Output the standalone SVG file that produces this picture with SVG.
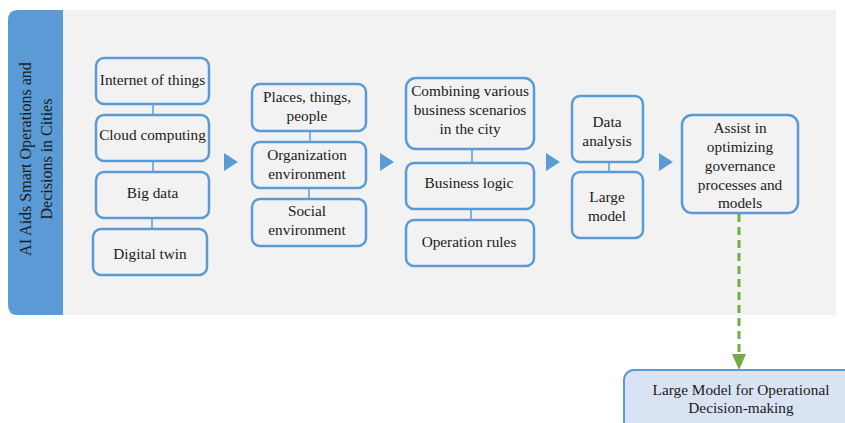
<svg xmlns="http://www.w3.org/2000/svg" width="845" height="423" viewBox="0 0 845 423">
<style>
  .box { fill: #f2f2f2; stroke: #5b9bd5; stroke-width: 2.5; }
  .t { font-family: 'Liberation Serif', 'DejaVu Serif', serif; font-size: 15.3px; fill: #1a1a1a; text-anchor: middle; }
  .v { font-size: 16px; }
  .link { stroke: #5b9bd5; stroke-width: 1.5; fill: none; }
  .tri { fill: #5b9bd5; }
</style>
<rect x="0" y="0" width="845" height="423" fill="#ffffff"/>
<g id="panel">
  <rect x="10" y="10" width="826" height="305" fill="#f2f2f2"/>
  <path d="M18,10 H63 V315 H18 Q8,315 8,305 V20 Q8,10 18,10 Z" fill="#5b9bd5"/>
  <text class="t v" transform="translate(36,159) rotate(-90)"><tspan x="0" y="-5">AI Aids Smart Operations and</tspan><tspan x="0" y="16">Decisions in Cities</tspan></text>
</g>
<g id="connectors">
  <line class="link" x1="153" y1="104" x2="153" y2="115"/>
  <line class="link" x1="153" y1="161" x2="153" y2="172"/>
  <line class="link" x1="152" y1="218" x2="152" y2="229"/>
  <line class="link" x1="310" y1="131" x2="310" y2="142"/>
  <line class="link" x1="309" y1="188" x2="309" y2="199"/>
  <line class="link" x1="472" y1="149" x2="472" y2="163"/>
  <line class="link" x1="471" y1="209" x2="471" y2="220"/>
  <line class="link" x1="609" y1="162" x2="609" y2="172"/>
  <polygon class="tri" points="224,153 238,162 224,171"/>
  <polygon class="tri" points="380,153 394,162 380,171"/>
  <polygon class="tri" points="546,153 560,162 546,171"/>
  <polygon class="tri" points="659,153 673,162 659,171"/>
  <line x1="739" y1="214" x2="739" y2="356" stroke="#70ad47" stroke-width="3" stroke-dasharray="8,5"/>
  <polygon points="732,354 746,354 739,370" fill="#70ad47"/>
</g>
<g id="n-iot"><rect class="box" x="96" y="58" width="113" height="46" rx="8"/><text class="t" x="152.5" y="85">Internet of things</text></g>
<g id="n-cloud"><rect class="box" x="96" y="115" width="113" height="46" rx="8"/><text class="t" x="152.5" y="140">Cloud computing</text></g>
<g id="n-bigdata"><rect class="box" x="96" y="172" width="113" height="46" rx="8"/><text class="t" x="152.5" y="198">Big data</text></g>
<g id="n-twin"><rect class="box" x="93" y="229" width="114" height="46" rx="8"/><text class="t" x="150" y="259">Digital twin</text></g>
<g id="n-places"><rect class="box" x="252" y="84" width="114" height="47" rx="8"/><text class="t"><tspan x="307" y="102">Places, things,</tspan><tspan x="307" y="121">people</tspan></text></g>
<g id="n-org"><rect class="box" x="252" y="142" width="114" height="46" rx="8"/><text class="t"><tspan x="307" y="160">Organization</tspan><tspan x="307" y="179">environment</tspan></text></g>
<g id="n-social"><rect class="box" x="252" y="199" width="114" height="47" rx="8"/><text class="t"><tspan x="307" y="216">Social</tspan><tspan x="307" y="235">environment</tspan></text></g>
<g id="n-combining"><rect class="box" x="406" y="78" width="128" height="71" rx="10"/><text class="t"><tspan x="470" y="96">Combining various</tspan><tspan x="470" y="115">business scenarios</tspan><tspan x="470" y="134">in the city</tspan></text></g>
<g id="n-logic"><rect class="box" x="406" y="163" width="128" height="46" rx="8"/><text class="t" x="469" y="188">Business logic</text></g>
<g id="n-rules"><rect class="box" x="406" y="220" width="128" height="46" rx="8"/><text class="t" x="469" y="247">Operation rules</text></g>
<g id="n-data"><rect class="box" x="572" y="96" width="71" height="66" rx="8"/><text class="t"><tspan x="607" y="127">Data</tspan><tspan x="607" y="146">analysis</tspan></text></g>
<g id="n-large"><rect class="box" x="572" y="172" width="71" height="66" rx="8"/><text class="t"><tspan x="607" y="202">Large</tspan><tspan x="607" y="221">model</tspan></text></g>
<g id="n-assist"><rect class="box" x="682" y="115" width="116" height="98" rx="10"/><text class="t"><tspan x="740" y="133">Assist in</tspan><tspan x="740" y="152">optimizing</tspan><tspan x="740" y="171">governance</tspan><tspan x="740" y="190">processes and</tspan><tspan x="740" y="208">models</tspan></text></g>
<g id="n-decision"><rect x="624" y="370" width="240" height="70" rx="10" fill="#dae3f3" stroke="#5b9bd5" stroke-width="2"/><text class="t"><tspan x="741" y="395">Large Model for Operational</tspan><tspan x="741" y="413">Decision-making</tspan></text></g>
</svg>
